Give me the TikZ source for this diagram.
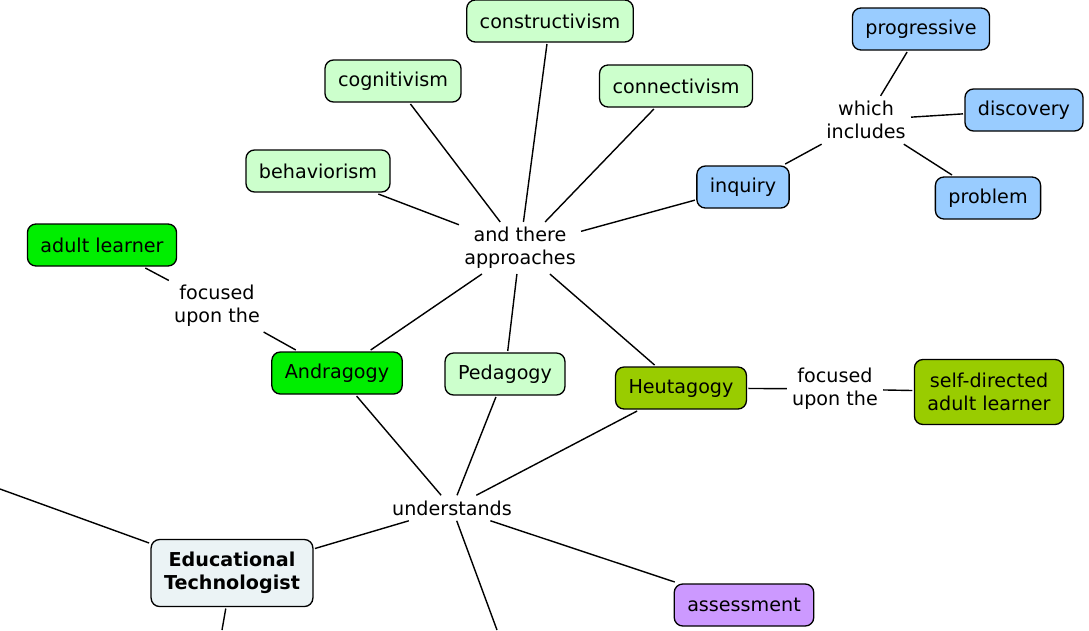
\documentclass[tikz,border=0pt]{standalone}
\usepackage{fontspec}
\setmainfont{DejaVu Sans}
\definecolor{MapPaleGreen}{HTML}{CCFFCC}
\definecolor{MapBlue}{HTML}{99CCFF}
\definecolor{MapGreen}{HTML}{00EE00}
\definecolor{MapOlive}{HTML}{99CC00}
\definecolor{MapViolet}{HTML}{CC99FF}
\definecolor{MapGrey}{HTML}{EBF3F5}
\tikzset{
	concept/.style={draw, rounded corners=0.17cm, line width=0.75pt, inner xsep=0.26cm,
		minimum height=0.84cm, outer sep=0.04cm, align=center,
		font=\fontsize{10.9}{13}\selectfont},
	twoline/.style={minimum height=1.3cm},
	phrase/.style={inner sep=0.1cm, align=center, font=\fontsize{10.9}{13}\selectfont},
	link/.style={line width=0.8pt}
}

\begin{document}
\begin{tikzpicture}[x=0.02cm,y=-0.02cm]
	\useasboundingbox (0,0) rectangle (1089,630);
	
	% learning theories
	\node[concept,fill=MapPaleGreen] (constructivism) at (550,21) {constructivism};
	\node[concept,fill=MapPaleGreen] (cognitivism) at (393,81) {cognitivism};
	\node[concept,fill=MapPaleGreen] (connectivism) at (676,86) {connectivism};
	\node[concept,fill=MapPaleGreen] (behaviorism) at (318,171) {behaviorism};
	
	% inquiry branch
	\node[concept,fill=MapBlue] (progressive) at (921,29) {progressive};
	\node[concept,fill=MapBlue] (discovery) at (1024,110) {discovery};
	\node[concept,fill=MapBlue] (problem) at (988,198) {problem};
	\node[concept,fill=MapBlue] (inquiry) at (743,187) {inquiry};
	\node[phrase] (includes) at (866,120) {which\\includes};
	
	\node[phrase] (approaches) at (520,248) {and there\\approaches};
	
	% the three -gogies
	\node[concept,fill=MapGreen] (adult) at (102,245) {adult learner};
	\node[phrase] (focusedA) at (217,306) {focused\\upon the};
	\node[concept,fill=MapGreen] (andragogy) at (337,373) {Andragogy};
	\node[concept,fill=MapPaleGreen] (pedagogy) at (505,374) {Pedagogy};
	\node[concept,fill=MapOlive] (heutagogy) at (681,388) {Heutagogy};
	\node[phrase] (focusedH) at (835,389) {focused\\upon the};
	\node[concept,fill=MapOlive,twoline] (selfdirected) at (989,392) {self-directed\\adult learner};
	
	\node[phrase] (understands) at (452,508) {understands};
	\node[concept,fill=MapGrey,twoline,minimum height=1.34cm] (edtech) at (232,573) {\bfseries Educational\\\bfseries Technologist};
	\node[concept,fill=MapViolet] (assessment) at (744,605) {assessment};
	
	% loose ends leaving the frame
	\coordinate (offLeft) at (0,489);
	\coordinate (offEdtech) at (222,630);
	\coordinate (offUnderstands) at (497,630);
	
	
	\draw[link] (approaches) -- (behaviorism);
	\draw[link] (approaches) -- (cognitivism);
	\draw[link] (approaches) -- (constructivism);
	\draw[link] (approaches) -- (connectivism);
	\draw[link] (approaches) -- (inquiry);
	\draw[link] (inquiry) -- (includes);
	\draw[link] (includes) -- (progressive);
	\draw[link] (includes) -- (discovery);
	\draw[link] (includes) -- (problem);
	
	\draw[link] (andragogy) -- (approaches);
	\draw[link] (pedagogy) -- (approaches);
	\draw[link] (heutagogy) -- (approaches);
	\draw[link] (adult) -- (focusedA);
	\draw[link] (focusedA) -- (andragogy);
	\draw[link] (heutagogy) -- (focusedH);
	\draw[link] (focusedH) -- (selfdirected);
	
	\draw[link] (understands) -- (andragogy);
	\draw[link] (understands) -- (pedagogy);
	\draw[link] (understands) -- (heutagogy);
	\draw[link] (edtech) -- (understands);
	\draw[link] (understands) -- (assessment);
	\draw[link] (understands) -- (offUnderstands);
	\draw[link] (edtech) -- (offLeft);
	\draw[link] (edtech) -- (offEdtech);
	
\end{tikzpicture}
\end{document}
